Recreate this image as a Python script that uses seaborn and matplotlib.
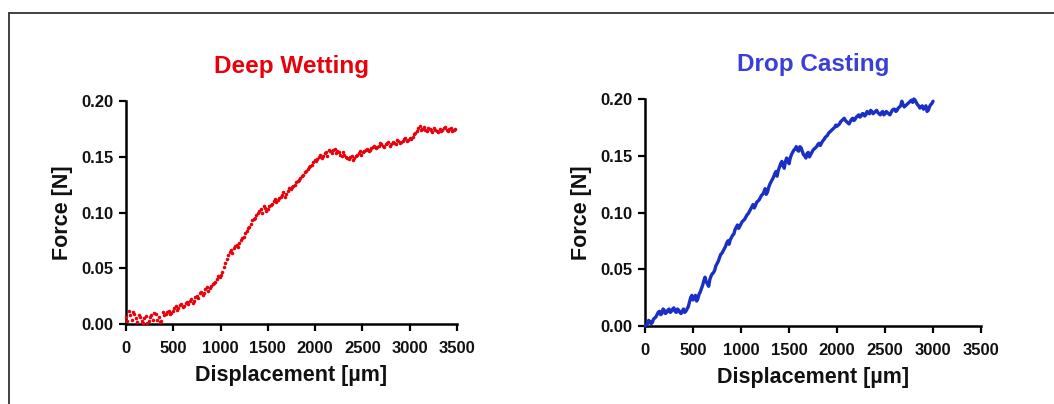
import matplotlib
matplotlib.use("Agg")
import matplotlib.pyplot as plt
from matplotlib.lines import Line2D
import seaborn as sns
import pandas as pd

# Deep Wetting: displacement [µm] and force [N], two interleaved acquisition passes
dw_disp = [0, 30, 60, 90, 120, 150, 180, 210, 240, 270, 300, 330, 360, 390, 420, 450,
           480, 510, 540, 570, 600, 630, 660, 690, 720, 750, 780, 810, 840, 870, 900,
           930, 960, 990, 1020, 1050, 1080, 1110, 1140, 1170, 1200, 1230, 1260, 1290,
           1320, 1350, 1380, 1410, 1440, 1470, 1500, 1530, 1560, 1590, 1620, 1650, 1680,
           1710, 1740, 1770, 1800, 1830, 1860, 1890, 1920, 1950, 1980, 2010, 2040, 2070,
           2100, 2130, 2160, 2190, 2220, 2250, 2280, 2310, 2340, 2370, 2400, 2430, 2460,
           2490, 2520, 2550, 2580, 2610, 2640, 2670, 2700, 2730, 2760, 2790, 2820, 2850,
           2880, 2910, 2940, 2970, 3000, 3030, 3060, 3090, 3120, 3150, 3180, 3210, 3240,
           3270, 3300, 3330, 3360, 3390, 3420, 3450, 3480]
dw_force = [0.006, 0.012, 0.004, 0.009, 0.002, 0.006, 0.001, 0.007, 0.003, 0.008, 0.010,
            0.004, 0.002, 0.011, 0.009, 0.012, 0.010, 0.014, 0.013, 0.017, 0.015, 0.019,
            0.018, 0.022, 0.021, 0.025, 0.028, 0.026, 0.031, 0.030, 0.034, 0.037, 0.040,
            0.042, 0.047, 0.055, 0.062, 0.066, 0.068, 0.071, 0.073, 0.077, 0.082, 0.086,
            0.090, 0.094, 0.098, 0.101, 0.100, 0.104, 0.103, 0.107, 0.110, 0.109, 0.113,
            0.116, 0.114, 0.119, 0.121, 0.124, 0.127, 0.129, 0.133, 0.136, 0.139, 0.142,
            0.145, 0.146, 0.150, 0.149, 0.153, 0.151, 0.155, 0.156, 0.153, 0.154, 0.151,
            0.152, 0.149, 0.150, 0.147, 0.151, 0.153, 0.152, 0.155, 0.157, 0.156, 0.159,
            0.158, 0.160, 0.161, 0.159, 0.162, 0.160, 0.163, 0.161, 0.164, 0.163, 0.166,
            0.164, 0.167, 0.168, 0.171, 0.176, 0.174, 0.177, 0.173, 0.175, 0.172, 0.174,
            0.172, 0.173, 0.176, 0.174, 0.175, 0.173, 0.175]
dw_disp_b = [15, 45, 75, 105, 135, 165, 195, 225, 255, 285, 315, 345, 375, 405, 435, 465,
             495, 525, 555, 585, 615, 645, 675, 705, 735, 765, 795, 825, 855, 885, 915,
             945, 975, 1005, 1035, 1065, 1095, 1125, 1155, 1185, 1215, 1245, 1275, 1305,
             1335, 1365, 1395, 1425, 1455, 1485, 1515, 1545, 1575, 1605, 1635, 1665, 1695,
             1725, 1755, 1785, 1815, 1845, 1875, 1905, 1935, 1965, 1995, 2025, 2055, 2085,
             2115, 2145, 2175, 2205, 2235, 2265, 2295, 2325, 2355, 2385, 2415, 2445, 2475,
             2505, 2535, 2565, 2595, 2625, 2655, 2685, 2715, 2745, 2775, 2805, 2835, 2865,
             2895, 2925, 2955, 2985, 3015, 3045, 3075, 3105, 3135, 3165, 3195, 3225, 3255,
             3285, 3315, 3345, 3375, 3405, 3435, 3465]
dw_force_b = [0.003, 0.008, 0.011, 0.005, 0.008, 0.003, 0.005, 0.001, 0.006, 0.004, 0.009,
              0.006, 0.003, 0.008, 0.011, 0.009, 0.012, 0.016, 0.014, 0.018, 0.016, 0.020,
              0.021, 0.019, 0.024, 0.023, 0.029, 0.028, 0.033, 0.032, 0.036, 0.038, 0.043,
              0.044, 0.051, 0.058, 0.065, 0.064, 0.070, 0.069, 0.075, 0.078, 0.083, 0.087,
              0.093, 0.095, 0.100, 0.103, 0.106, 0.101, 0.106, 0.108, 0.112, 0.111, 0.114,
              0.118, 0.117, 0.122, 0.123, 0.125, 0.128, 0.131, 0.134, 0.137, 0.141, 0.143,
              0.147, 0.148, 0.152, 0.151, 0.154, 0.156, 0.153, 0.157, 0.155, 0.152, 0.154,
              0.150, 0.148, 0.151, 0.149, 0.152, 0.155, 0.154, 0.156, 0.155, 0.158, 0.160,
              0.159, 0.162, 0.160, 0.161, 0.163, 0.161, 0.162, 0.165, 0.162, 0.164, 0.167,
              0.165, 0.166, 0.170, 0.173, 0.178, 0.175, 0.174, 0.176, 0.174, 0.176, 0.173,
              0.175, 0.174, 0.177, 0.173, 0.176, 0.174]

# Drop Casting: displacement [µm] and force [N]
dc_disp = [0, 25, 50, 75, 100, 125, 150, 175, 200, 225, 250, 275, 300, 325, 350, 375,
           400, 425, 450, 475, 500, 525, 550, 575, 600, 625, 650, 675, 700, 725, 750,
           775, 800, 825, 850, 875, 900, 925, 950, 975, 1000, 1025, 1050, 1075, 1100,
           1125, 1150, 1175, 1200, 1225, 1250, 1275, 1300, 1325, 1350, 1375, 1400, 1425,
           1450, 1475, 1500, 1525, 1550, 1575, 1600, 1625, 1650, 1675, 1700, 1725, 1750,
           1775, 1800, 1825, 1850, 1875, 1900, 1925, 1950, 1975, 2000, 2025, 2050, 2075,
           2100, 2125, 2150, 2175, 2200, 2225, 2250, 2275, 2300, 2325, 2350, 2375, 2400,
           2425, 2450, 2475, 2500, 2525, 2550, 2575, 2600, 2625, 2650, 2675, 2700, 2725,
           2750, 2775, 2800, 2825, 2850, 2875, 2900, 2925, 2950, 2975, 3000]
dc_force = [0.000, 0.002, 0.004, 0.003, 0.007, 0.010, 0.013, 0.011, 0.014, 0.012, 0.015,
            0.013, 0.016, 0.012, 0.014, 0.011, 0.015, 0.013, 0.017, 0.025, 0.023, 0.027,
            0.024, 0.030, 0.036, 0.043, 0.037, 0.041, 0.046, 0.049, 0.055, 0.060, 0.064,
            0.068, 0.073, 0.072, 0.078, 0.081, 0.087, 0.086, 0.090, 0.093, 0.096, 0.099,
            0.103, 0.107, 0.106, 0.110, 0.113, 0.116, 0.121, 0.118, 0.125, 0.129, 0.134,
            0.132, 0.140, 0.145, 0.139, 0.148, 0.143, 0.151, 0.155, 0.158, 0.154, 0.157,
            0.151, 0.148, 0.153, 0.151, 0.155, 0.157, 0.160, 0.159, 0.163, 0.166, 0.168,
            0.171, 0.173, 0.175, 0.176, 0.178, 0.181, 0.183, 0.180, 0.178, 0.182, 0.181,
            0.184, 0.186, 0.185, 0.187, 0.186, 0.188, 0.190, 0.187, 0.189, 0.188, 0.186,
            0.189, 0.187, 0.188, 0.186, 0.190, 0.191, 0.190, 0.193, 0.198, 0.193, 0.195,
            0.197, 0.199, 0.200, 0.197, 0.194, 0.193, 0.191, 0.194, 0.190, 0.195, 0.198]
dc_disp_b = [12.5, 37.5, 62.5, 87.5, 112.5, 137.5, 162.5, 187.5, 212.5, 237.5, 262.5,
             287.5, 312.5, 337.5, 362.5, 387.5, 412.5, 437.5, 462.5, 487.5, 512.5, 537.5,
             562.5, 587.5, 612.5, 637.5, 662.5, 687.5, 712.5, 737.5, 762.5, 787.5, 812.5,
             837.5, 862.5, 887.5, 912.5, 937.5, 962.5, 987.5, 1012.5, 1037.5, 1062.5,
             1087.5, 1112.5, 1137.5, 1162.5, 1187.5, 1212.5, 1237.5, 1262.5, 1287.5,
             1312.5, 1337.5, 1362.5, 1387.5, 1412.5, 1437.5, 1462.5, 1487.5, 1512.5,
             1537.5, 1562.5, 1587.5, 1612.5, 1637.5, 1662.5, 1687.5, 1712.5, 1737.5,
             1762.5, 1787.5, 1812.5, 1837.5, 1862.5, 1887.5, 1912.5, 1937.5, 1962.5,
             1987.5, 2012.5, 2037.5, 2062.5, 2087.5, 2112.5, 2137.5, 2162.5, 2187.5,
             2212.5, 2237.5, 2262.5, 2287.5, 2312.5, 2337.5, 2362.5, 2387.5, 2412.5,
             2437.5, 2462.5, 2487.5, 2512.5, 2537.5, 2562.5, 2587.5, 2612.5, 2637.5,
             2662.5, 2687.5, 2712.5, 2737.5, 2762.5, 2787.5, 2812.5, 2837.5, 2862.5,
             2887.5, 2912.5, 2937.5, 2962.5, 2987.5]
dc_force_b = [0.001, 0.005, 0.002, 0.006, 0.008, 0.012, 0.010, 0.015, 0.011, 0.014, 0.012,
              0.015, 0.013, 0.015, 0.012, 0.013, 0.012, 0.015, 0.021, 0.027, 0.025, 0.022,
              0.028, 0.033, 0.040, 0.039, 0.035, 0.044, 0.047, 0.053, 0.057, 0.063, 0.066,
              0.070, 0.075, 0.076, 0.080, 0.085, 0.089, 0.088, 0.092, 0.094, 0.098, 0.101,
              0.105, 0.104, 0.109, 0.111, 0.115, 0.118, 0.116, 0.122, 0.127, 0.131, 0.136,
              0.137, 0.143, 0.141, 0.145, 0.146, 0.148, 0.153, 0.156, 0.155, 0.158, 0.154,
              0.150, 0.152, 0.149, 0.153, 0.156, 0.158, 0.161, 0.161, 0.164, 0.167, 0.170,
              0.172, 0.174, 0.177, 0.177, 0.180, 0.182, 0.181, 0.179, 0.180, 0.183, 0.182,
              0.185, 0.184, 0.187, 0.185, 0.189, 0.187, 0.189, 0.188, 0.190, 0.187, 0.188,
              0.186, 0.189, 0.187, 0.188, 0.191, 0.189, 0.192, 0.194, 0.195, 0.194, 0.196,
              0.198, 0.197, 0.199, 0.195, 0.192, 0.194, 0.192, 0.189, 0.193, 0.196]

x_ticks = [0, 500, 1000, 1500, 2000, 2500, 3000, 3500]
y_ticks = [0.00, 0.05, 0.10, 0.15, 0.20]
titles = ["Deep Wetting", "Drop Casting"]

RED = "#e8000b"
BLUE = "#1a2fc4"
TITLE_BLUE = "#3a3fd6"

sns.set_theme(style="ticks")
plt.rcParams["font.family"] = ["Liberation Sans", "DejaVu Sans"]
plt.rcParams["font.weight"] = "bold"

fig = plt.figure(figsize=(10.54, 4.04), dpi=100)
fig.patch.set_facecolor("white")

ax1 = fig.add_axes([0.1195, 0.198, 0.3141, 0.552])
ax2 = fig.add_axes([0.612, 0.193, 0.3188, 0.562])

dw = pd.DataFrame({"disp": dw_disp + dw_disp_b, "force": dw_force + dw_force_b})
dc = pd.DataFrame({"disp": dc_disp + dc_disp_b, "force": dc_force + dc_force_b})

sns.scatterplot(data=dw, x="disp", y="force", ax=ax1, color=RED, s=6.5,
                linewidth=0, clip_on=False, zorder=3)
sns.lineplot(data=dc, x="disp", y="force", ax=ax2, color=BLUE, linewidth=2.4,
             clip_on=False, zorder=3)

for ax, title, tcolor in [(ax1, titles[0], RED), (ax2, titles[1], TITLE_BLUE)]:
    ax.set_xlim(0, 3500)
    ax.set_ylim(0, 0.20)
    ax.set_xticks(x_ticks)
    ax.set_yticks(y_ticks)
    ax.set_yticklabels([f"{v:.2f}" for v in y_ticks])
    ax.tick_params(axis="both", width=1.6, length=5, labelsize=12,
                   color="black", labelcolor="#111111")
    ax.tick_params(axis="x", pad=7)
    ax.tick_params(axis="y", pad=4)
    for lab in ax.get_xticklabels() + ax.get_yticklabels():
        lab.set_fontweight("bold")
    for side in ["top", "right"]:
        ax.spines[side].set_visible(False)
    for side in ["left", "bottom"]:
        ax.spines[side].set_linewidth(1.8)
        ax.spines[side].set_color("black")
    ax.set_xlabel("Displacement [µm]", fontsize=15.5, fontweight="bold",
                  color="#111111", labelpad=7)
    ax.set_ylabel("Force [N]", fontsize=15.5, fontweight="bold",
                  color="#111111", labelpad=6)
    ax.set_title(title, fontsize=17.5, fontweight="bold", color=tcolor, pad=20)
    ax.set_facecolor("white")

# Outer frame (top and left edges)
fig.add_artist(Line2D([0.0085, 1.0], [0.968, 0.968], transform=fig.transFigure,
                      color="#333333", linewidth=1.3))
fig.add_artist(Line2D([0.0085, 0.0085], [0.0, 0.968], transform=fig.transFigure,
                      color="#333333", linewidth=1.3))

fig.savefig("out.png", dpi=100, facecolor="white")
